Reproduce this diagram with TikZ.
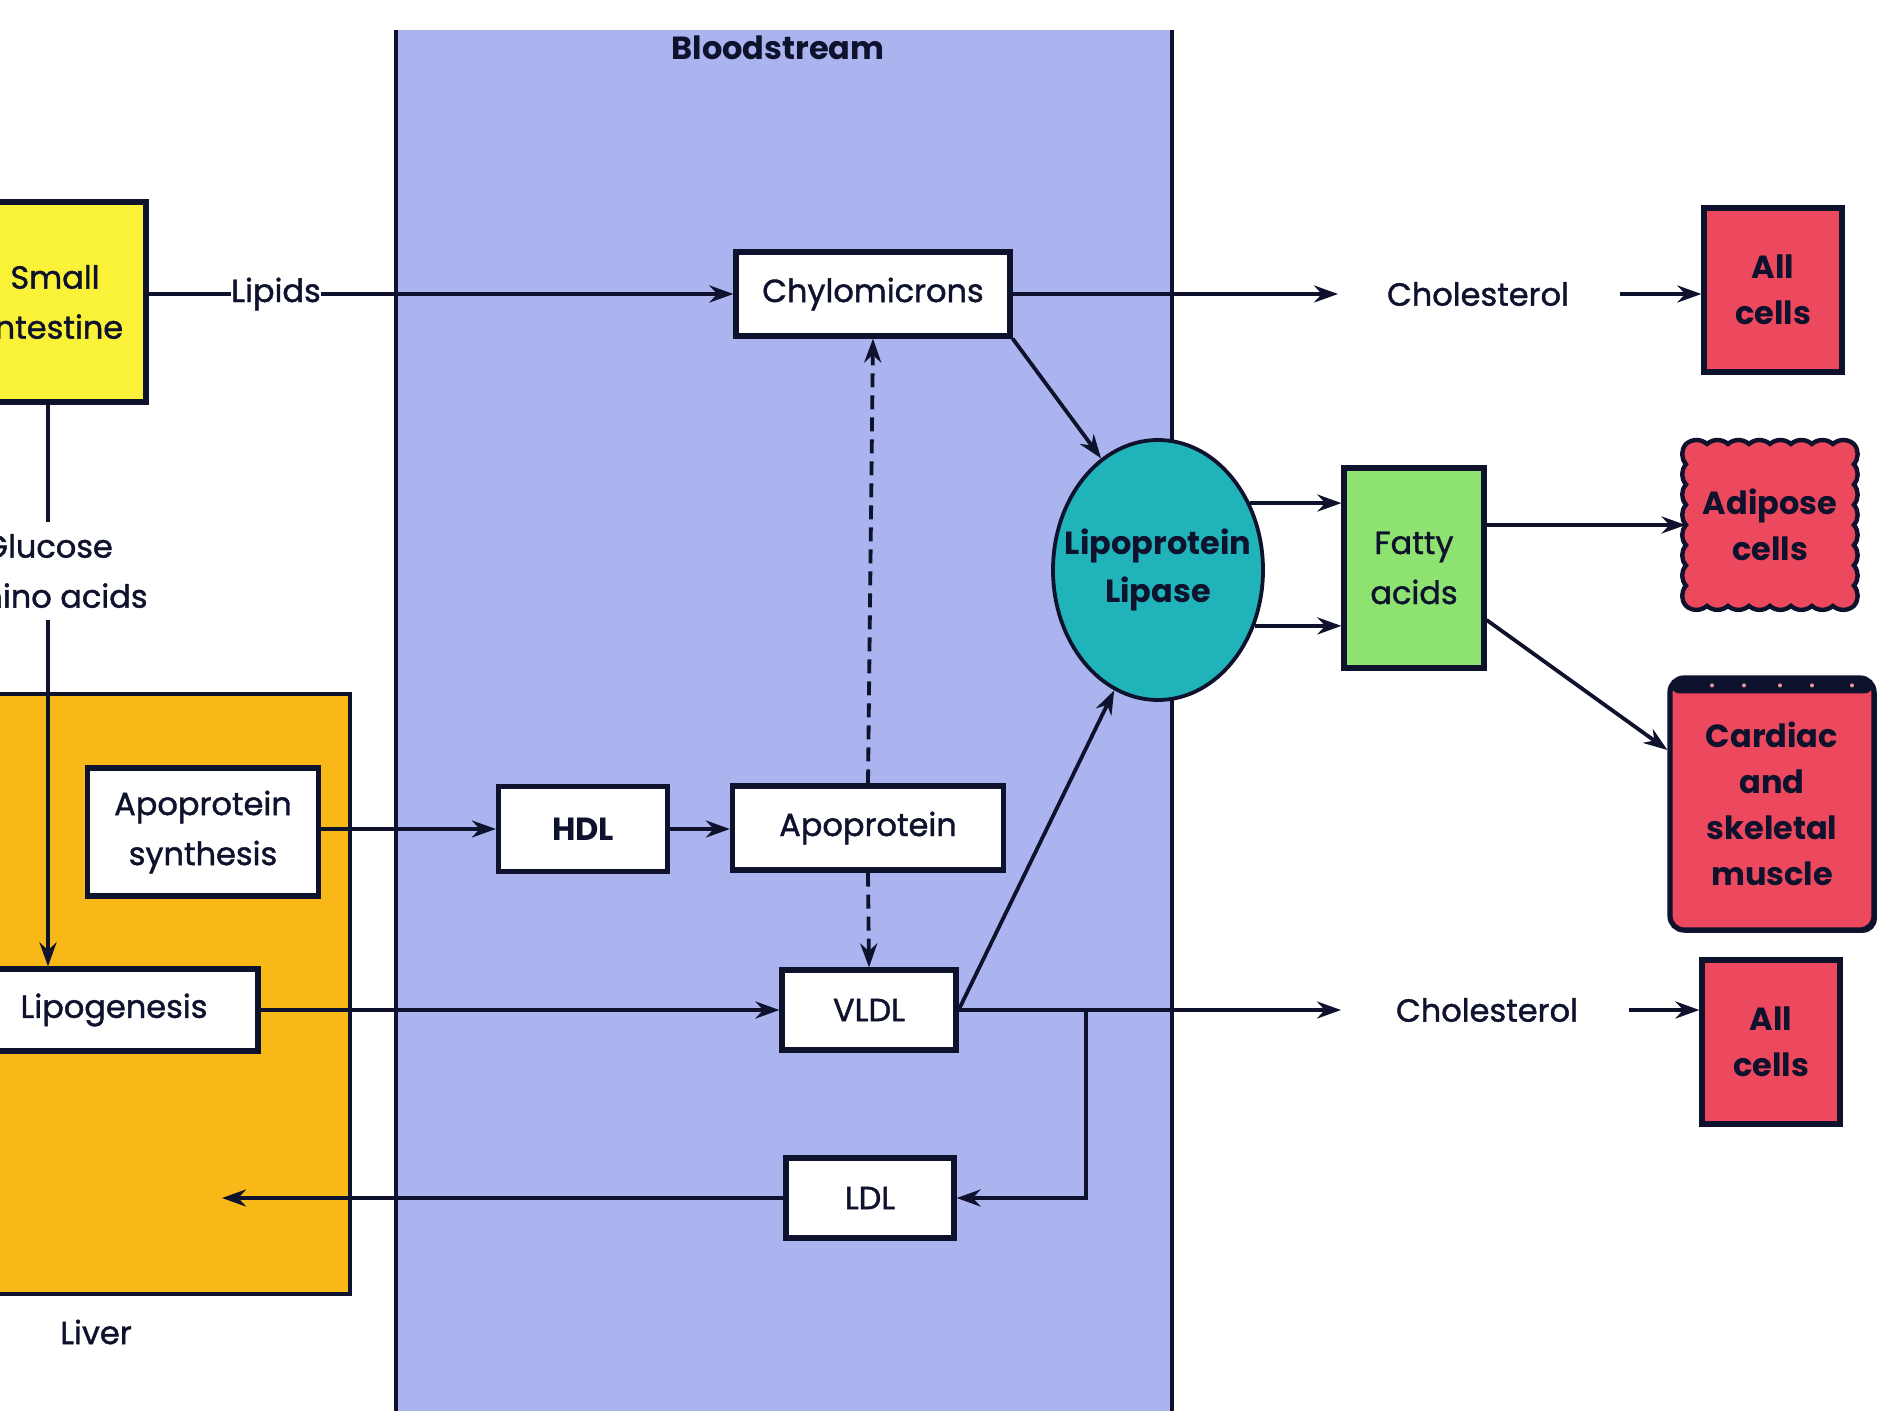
\documentclass[tikz,border=0pt]{standalone}
\usepackage{fontspec}
\setmainfont{Poppins}[UprightFeatures={FakeBold=1.3}]
\usetikzlibrary{arrows.meta,shapes.geometric,shadows,calc}
\definecolor{blood}{RGB}{172,180,240}
\definecolor{liverc}{RGB}{248,184,24}
\definecolor{sic}{RGB}{250,242,56}
\definecolor{cellc}{RGB}{236,72,94}
\definecolor{fatc}{RGB}{142,226,112}
\definecolor{lipc}{RGB}{32,180,186}
\definecolor{ink}{RGB}{14,18,44}
\begin{document}
\begin{tikzpicture}[x=0.5pt,y=-0.5pt,
  txt/.style={font=\fontsize{16}{25}\selectfont, text=ink, align=center},
  box/.style={txt, draw=ink, line width=2.6pt, fill=white, inner sep=0pt,
    drop shadow={shadow xshift=1.4pt,shadow yshift=-1.4pt,fill=ink,opacity=1}},
  cellbox/.style={box, fill=cellc, font=\fontsize{16}{23}\selectfont\bfseries},
  conn/.style={line width=1.9pt, draw=ink},
  arr/.style={conn, -{Stealth[length=12pt,width=8.5pt]}},
  darr/.style={arr, dash pattern=on 7pt off 4pt}]
\useasboundingbox (0,0) rectangle (1882,1411);
\fill[white] (0,0) rectangle (1882,1411);
% bloodstream
\fill[blood] (396,30) rectangle (1172,1420);
\draw[ink, line width=2.2pt] (396,30) -- (396,1420);
\draw[ink, line width=2.2pt] (1172,30) -- (1172,1420);
\node[txt, font=\fontsize{16}{18}\selectfont\bfseries] (blood) at (778,48) {Bloodstream};
% liver
\draw[ink, line width=2.4pt, fill=liverc] (-20,694) rectangle (350,1294);
\node[txt] (liver) at (96,1332) {Liver};
% small intestine
\node[box, fill=sic, minimum width=91pt, minimum height=100pt] (si) at (55,302) {Small\\Intestine};
\node[txt, inner sep=0pt] (lipids) at (276,294) {Lipids};
\node[txt, inner sep=6pt] (glu) at (48,571) {Glucose\\Amino acids};
% bloodstream boxes
\node[box, minimum width=137pt, minimum height=42pt] (chylo) at (873,294) {Chylomicrons};
\node[box, minimum width=135.5pt, minimum height=42pt] (apo) at (868,828) {Apoprotein};
\node[box, minimum width=84.5pt, minimum height=42.5pt, font=\fontsize{16}{25}\selectfont\bfseries] (hdl) at (583,829) {HDL};
\node[box, minimum width=115.5pt, minimum height=64pt] (aposyn) at (203,832) {Apoprotein\\synthesis};
\node[box, minimum width=87pt, minimum height=40pt] (vldl) at (869,1010) {VLDL};
\node[box, minimum width=84pt, minimum height=40pt] (ldl) at (870,1198) {LDL};
\node[box, minimum width=144pt, minimum height=41pt] (lipo) at (114,1010) {Lipogenesis};
% lipase
\node[ellipse, draw=ink, line width=1.9pt, fill=lipc, minimum width=105pt, minimum height=130pt, inner sep=0pt] (lipase) at (1158,570) {};
\node[txt, font=\fontsize{16}{24}\selectfont\bfseries, inner sep=0pt] (lipaset) at (lipase.center) {Lipoprotein\\Lipase};
\node[box, fill=fatc, minimum width=70pt, minimum height=100pt] (fatty) at (1414,568) {Fatty\\acids};
% right side
\node[txt] (chol1) at (1478,294) {Cholesterol};
\node[txt] (chol2) at (1487,1010) {Cholesterol};
\node[cellbox, minimum width=69pt, minimum height=82pt] (all1) at (1773,290) {All\\cells};
\node[cellbox, minimum width=69pt, minimum height=82pt] (all2) at (1771,1042) {All\\cells};
% adipose (scalloped)
\coordinate (adc) at (1770,525);
\begin{scope}[shift={(adc)}, x=1pt, y=1pt]
\draw[ink, line width=2.2pt, fill=cellc] (-42,40.5)
  \foreach \i in {1,...,8} {arc[start angle=131.6, end angle=48.4, radius=7.9]}
  \foreach \i in {1,...,8} {arc[start angle=41.6, end angle=-41.6, radius=7.62]}
  \foreach \i in {1,...,8} {arc[start angle=-48.4, end angle=-131.6, radius=7.9]}
  \foreach \i in {1,...,8} {arc[start angle=221.6, end angle=138.4, radius=7.62]} -- cycle;
\end{scope}
\node[txt, font=\fontsize{16}{23}\selectfont\bfseries, minimum width=84pt, minimum height=81pt, inner sep=0pt] (adipose) at (adc) {Adipose\\cells};
% cardiac
\node[cellbox, rounded corners=7pt, minimum width=102pt, minimum height=126pt] (cardiac) at (1772,804) {Cardiac\\and\\skeletal\\muscle};
\fill[ink, rounded corners=4pt] ([xshift=2pt,yshift=-1.3pt]cardiac.north west) rectangle ([xshift=-2pt,yshift=-9pt]cardiac.north east);
\foreach \dx in {-30,-14,4,20,40} \fill[cellc!60!white] ($(cardiac.north)+(\dx pt,-5pt)$) circle (1pt);
% connectors
\draw[conn] (lipids.west -| si.east) -- (lipids.west);
\draw[arr] (lipids.east) -- (lipids.east -| chylo.west);
\draw[arr, shorten >=21pt] (chylo.east) -- (chol1.west);
\draw[arr, shorten <=22pt] (chol1.east) -- (chol1.east -| all1.west);
\draw[arr] (chylo.south east) -- (lipase.117);
\draw[arr] (lipase.36) -- (lipase.36 -| fatty.west);
\draw[arr] (lipase.-30) -- (lipase.-30 -| fatty.west);
\draw[arr] (fatty.east |- adipose.west) -- (adipose.west);
\draw[arr] ([yshift=-26pt]fatty.east) -- ([yshift=27pt]cardiac.west);
\draw[conn] (glu.north |- si.south) -- (glu.north);
\draw[arr] (glu.south) -- (glu.south |- lipo.north);
\draw[arr] (lipo.east) -- (vldl.west);
\draw[arr] (aposyn.east |- hdl.west) -- (hdl.west);
\draw[arr] (hdl.east) -- (hdl.east -| apo.west);
\draw[darr] (apo.north) -- (chylo.south);
\draw[darr] (apo.south) -- (vldl.north);
\coordinate (br) at (1086,1010);
\coordinate (lvin) at (222,1198);
\draw[arr, shorten >=24pt] (vldl.east) -- (chol2.west);
\draw[arr, shorten <=22pt] (chol2.east) -- (chol2.east -| all2.west);
\draw[arr] (br) |- (ldl.east);
\draw[arr] (vldl.east) -- (lipase.250);
\draw[arr] (ldl.west) -- (lvin);
\end{tikzpicture}
\end{document}
